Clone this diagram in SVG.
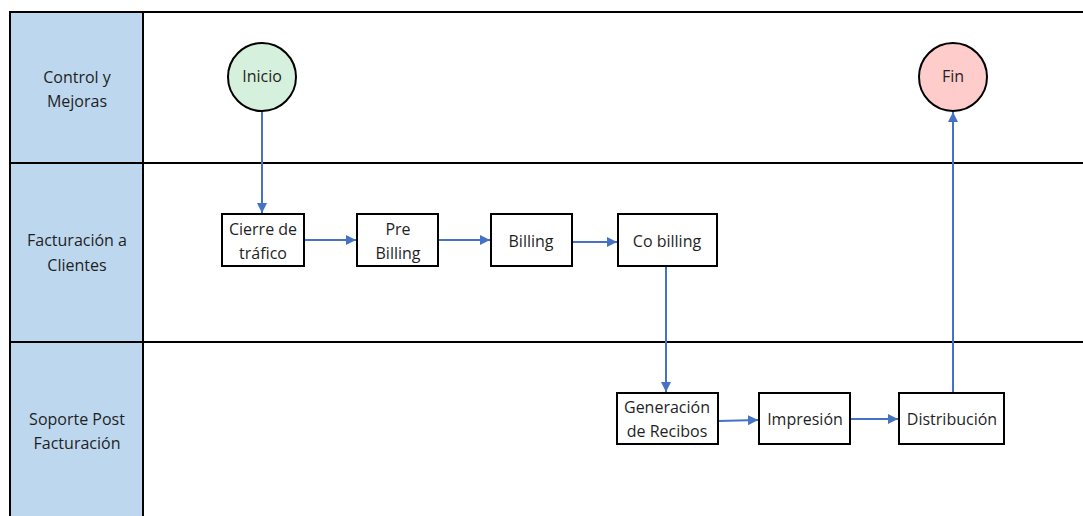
<svg xmlns="http://www.w3.org/2000/svg" width="1083" height="516" viewBox="0 0 1083 516">
<defs>
<style>
.lane{fill:#fff;stroke:#000;stroke-width:2}
.hdr{fill:#BDD7EE;stroke:#000;stroke-width:2}
.box{fill:#fff;stroke:#000;stroke-width:2}
.t{font-family:"Open Sans","Liberation Sans",sans-serif;font-size:16px;fill:#1f1f1f;text-anchor:middle}
.c{stroke:#4472C4;stroke-width:2;fill:none;marker-end:url(#ah)}
</style>
<marker id="ah" viewBox="0 0 10 10" refX="10" refY="5" markerWidth="5" markerHeight="5" orient="auto" markerUnits="strokeWidth">
<path d="M0,0 L10,5 L0,10 z" fill="#4472C4"/>
</marker>
</defs>
<rect width="1083" height="516" fill="#fff"/>
<g id="lanes">
<rect class="lane" x="10" y="12" width="1090" height="151"/>
<rect class="lane" x="10" y="163" width="1090" height="179"/>
<rect class="lane" x="10" y="342" width="1090" height="200"/>
</g>
<g id="lane-headers">
<g id="hdr1"><rect class="hdr" x="10" y="12" width="133" height="151"/><text class="t" x="77" y="83">Control y</text><text class="t" x="77" y="107">Mejoras</text></g>
<g id="hdr2"><rect class="hdr" x="10" y="163" width="133" height="179"/><text class="t" x="77" y="246">Facturación a</text><text class="t" x="77" y="271">Clientes</text></g>
<g id="hdr3"><rect class="hdr" x="10" y="342" width="133" height="200"/><text class="t" x="77" y="425">Soporte Post</text><text class="t" x="77" y="449">Facturación</text></g>
</g>
<g id="connectors">
<line class="c" x1="262" y1="111" x2="262" y2="213"/>
<line class="c" x1="304" y1="240" x2="356" y2="240"/>
<line class="c" x1="438" y1="240" x2="490" y2="240"/>
<line class="c" x1="572" y1="242" x2="617" y2="242"/>
<line class="c" x1="666" y1="266" x2="666" y2="392"/>
<line class="c" x1="718" y1="421" x2="758" y2="420"/>
<line class="c" x1="850" y1="419" x2="898" y2="419"/>
<line class="c" x1="953" y1="393" x2="953" y2="112"/>
</g>
<g id="inicio"><circle cx="262" cy="77" r="34" fill="#D5F0DC" stroke="#000" stroke-width="2"/><text class="t" x="262" y="82">Inicio</text></g>
<g id="fin"><circle cx="953" cy="77" r="34" fill="#FFCCCC" stroke="#000" stroke-width="2"/><text class="t" x="953" y="82">Fin</text></g>
<g id="cierre"><rect class="box" x="222" y="214" width="82" height="52"/><text class="t" x="263" y="235">Cierre de</text><text class="t" x="263" y="259">tráfico</text></g>
<g id="prebilling"><rect class="box" x="357" y="214" width="81" height="52"/><text class="t" x="398" y="235">Pre</text><text class="t" x="398" y="259">Billing</text></g>
<g id="billing"><rect class="box" x="491" y="214" width="81" height="52"/><text class="t" x="531" y="247">Billing</text></g>
<g id="cobilling"><rect class="box" x="618" y="214" width="99" height="52"/><text class="t" x="667" y="247">Co billing</text></g>
<g id="generacion"><rect class="box" x="617" y="393" width="101" height="51"/><text class="t" x="667" y="413">Generación</text><text class="t" x="667" y="437">de Recibos</text></g>
<g id="impresion"><rect class="box" x="759" y="393" width="91" height="51"/><text class="t" x="805" y="425">Impresión</text></g>
<g id="distribucion"><rect class="box" x="899" y="393" width="105" height="51"/><text class="t" x="952" y="425">Distribución</text></g>
</svg>
